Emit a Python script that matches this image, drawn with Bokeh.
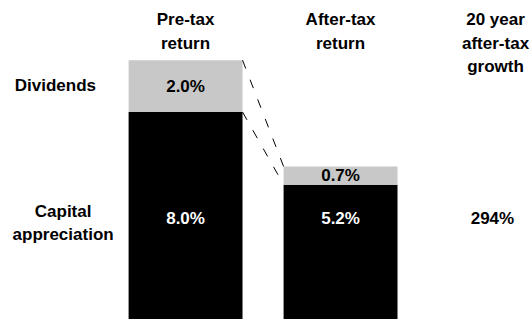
from bokeh.plotting import figure
from bokeh.models import Range1d, ColumnDataSource
from bokeh.core.properties import value
from bokeh.embed import file_html
from bokeh.resources import INLINE

# ---- data ----
columns = ["Pre-tax\nreturn", "After-tax\nreturn", "20 year\nafter-tax\ngrowth"]
capital = [8.0, 5.2]          # capital appreciation, % per year
dividends = [2.0, 0.7]        # dividends, % per year
growth_label = "294%"
row_labels = ["Dividends", "Capital\nappreciation"]

# ---- layout ----
FONT = value("Liberation Sans")
GRAY = "#C8C8C8"
BAR_W = 0.735
xs = [0, 1]
hdr_x = [0, 1, 2]

p = figure(width=531, height=319, output_backend="svg", toolbar_location=None,
           x_range=Range1d(-1.194, 2.232), y_range=Range1d(0, 12.30),
           min_border=0, outline_line_color=None)
p.axis.visible = False
p.grid.visible = False

tops = [c + d for c, d in zip(capital, dividends)]
src = ColumnDataSource(dict(x=xs, cap=capital, div=dividends, top=tops,
                            zero=[0] * len(xs)))
p.vbar(x="x", width=BAR_W, bottom="zero", top="cap", source=src,
       fill_color="black", line_color=None)
p.vbar(x="x", width=BAR_W, bottom="cap", top="top", source=src,
       fill_color=GRAY, line_color=None)

# dashed connectors between the two bars
x0 = xs[0] + BAR_W / 2
x1 = xs[1] - BAR_W / 2
p.segment(x0=[x0, x0], y0=[tops[0], capital[0]], x1=[x1, x1], y1=[tops[1], capital[1]],
          line_color="black", line_width=1, line_dash="9 12")

txt = dict(text_font=FONT, text_font_style="bold", text_font_size="17px",
           text_align="center", text_line_height=1.22)

# column headers
p.text(x=hdr_x, y=[11.92] * 3, text=columns, text_baseline="top",
       text_color="black", **txt)

# row labels
p.text(x=[-0.84, -0.79], y=[9.02, 3.72], text=row_labels, text_baseline="middle",
       text_color="black", **txt)

# segment values
div_y = [c + d / 2 for c, d in zip(capital, dividends)]
p.text(x=xs, y=div_y, text=[f"{d:.1f}%" for d in dividends], text_baseline="middle",
       text_color="black", **txt)
p.text(x=xs, y=[3.9] * 2, text=[f"{c:.1f}%" for c in capital], text_baseline="middle",
       text_color="white", **txt)
p.text(x=[hdr_x[2] - 0.02], y=[3.9], text=[growth_label], text_baseline="middle",
       text_color="black", **txt)

open("out.html", "w").write(file_html(p, INLINE))
